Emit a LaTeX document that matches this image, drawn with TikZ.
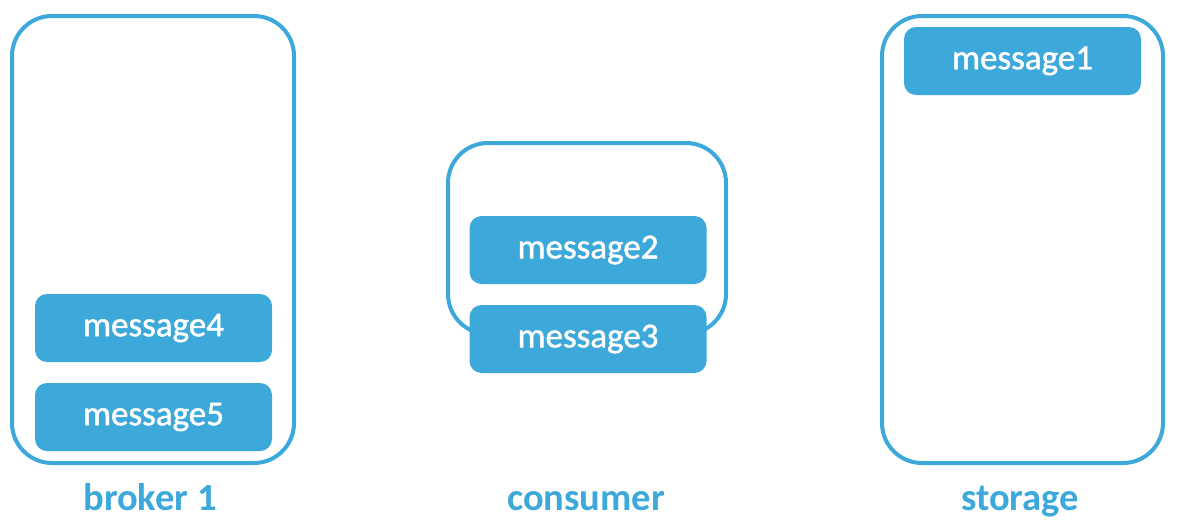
\documentclass[tikz,border=0pt]{standalone}
\usepackage{fontspec}
\setmainfont{Carlito}
\newfontfamily\msgfont[FakeBold=1.3]{Carlito}
\definecolor{msgblue}{RGB}{61,168,218}
\begin{document}
\begin{tikzpicture}[x=1pt,y=-1pt,
  outline/.style={draw=msgblue,line width=4pt,rounded corners=40pt},
  msgbox/.style={fill=msgblue,draw=none,rounded corners=12pt,minimum width=237pt,minimum height=68pt,inner sep=0pt,text=white,font=\msgfont\fontsize{35}{40}\selectfont},
  caption/.style={inner sep=0pt,anchor=base,text=msgblue,font=\bfseries\fontsize{38.5}{44}\selectfont}]
\path[use as bounding box] (0,0) rectangle (1182,530);
\path[fill=white] (0,0) rectangle (1182,530);
% broker
\draw[outline] (12,16) rectangle (294,463);
\node[msgbox] (msg4) at (153.5,328) {message4};
\node[msgbox] (msg5) at (153.5,417) {message5};
\node[caption] (broker) at (150,510) {broker 1};
% consumer
\draw[outline] (448,143) rectangle (726,334);
\node[msgbox] (msg2) at (588,250) {message2};
\node[msgbox] (msg3) at (588,339) {message3};
\node[caption] (consumer) at (586,510) {consumer};
% storage
\draw[outline] (882,16) rectangle (1163,463);
\node[msgbox] (msg1) at (1022.5,61) {message1};
\node[caption] (storage) at (1020,510) {storage};
\end{tikzpicture}
\end{document}
